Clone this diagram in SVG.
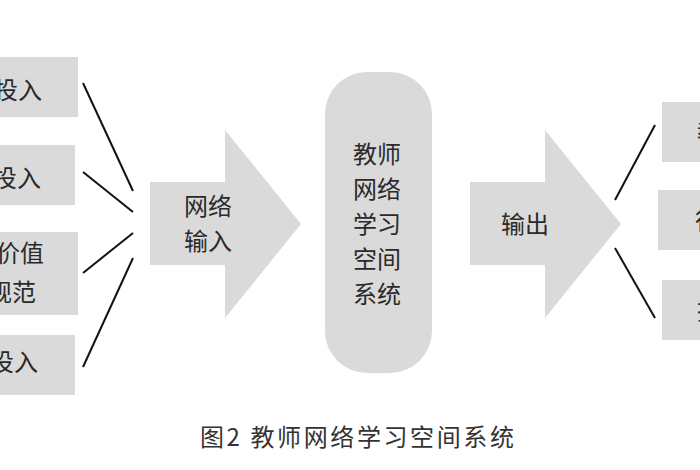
<svg xmlns="http://www.w3.org/2000/svg" width="700" height="470" viewBox="0 0 700 470">
<style>
.box{fill:#dadada}
.t{font-family:"Noto Sans CJK SC","Noto Sans",sans-serif;font-size:24px;fill:#2a2a2a}
.c{text-anchor:middle}
.e{text-anchor:end}
.ln{stroke:#111;stroke-width:2;fill:none}
.cap{font-family:"Noto Sans CJK SC","Noto Sans",sans-serif;font-size:24px;fill:#333;letter-spacing:2.6px}
</style>
<rect width="700" height="470" fill="#ffffff"/>
<g id="in1"><rect class="box" x="-10" y="57" width="88" height="60"/><text class="t e" x="42" y="99">投入</text></g>
<g id="in2"><rect class="box" x="-10" y="145" width="85" height="60"/><text class="t e" x="41" y="187">投入</text></g>
<g id="in3"><rect class="box" x="-10" y="232" width="88" height="83"/><text class="t e" x="44" y="262">价值</text><text class="t e" x="36" y="301">规范</text></g>
<g id="in4"><rect class="box" x="-10" y="335" width="85" height="60"/><text class="t e" x="38" y="371">投入</text></g>
<g id="arrow-in"><polygon class="box" points="150,182 225,182 225,130 301,224 225,318 225,265 150,265"/><text class="t c" x="208" y="215">网络</text><text class="t c" x="208" y="250">输入</text></g>
<g id="center"><rect class="box" x="325" y="72" width="107" height="301" rx="42" ry="42"/>
<text class="t c" x="377" y="163">教师</text><text class="t c" x="377" y="198">网络</text><text class="t c" x="377" y="233">学习</text><text class="t c" x="377" y="268">空间</text><text class="t c" x="377" y="303">系统</text></g>
<g id="arrow-out"><polygon class="box" points="470,182 545,182 545,130 621,224 545,318 545,265 470,265"/><text class="t c" x="525" y="233">输出</text></g>
<g id="out1"><rect class="box" x="662" y="102" width="50" height="60"/><text class="t" x="697" y="141">教</text></g>
<g id="out2"><rect class="box" x="658" y="190" width="54" height="60"/><text class="t" x="695" y="229">行</text></g>
<g id="out3"><rect class="box" x="662" y="280" width="50" height="60"/><text class="t" x="697" y="319">技</text></g>
<g id="connectors">
<line class="ln" x1="83" y1="83" x2="133" y2="191"/>
<line class="ln" x1="83" y1="172" x2="133" y2="212"/>
<line class="ln" x1="133" y1="233" x2="83" y2="273"/>
<line class="ln" x1="133" y1="258" x2="83" y2="367"/>
<line class="ln" x1="615" y1="200" x2="655" y2="125"/>
<line class="ln" x1="615" y1="248" x2="655" y2="318"/>
</g>
<text class="cap" x="200" y="446">图2 教师网络学习空间系统</text>
</svg>
